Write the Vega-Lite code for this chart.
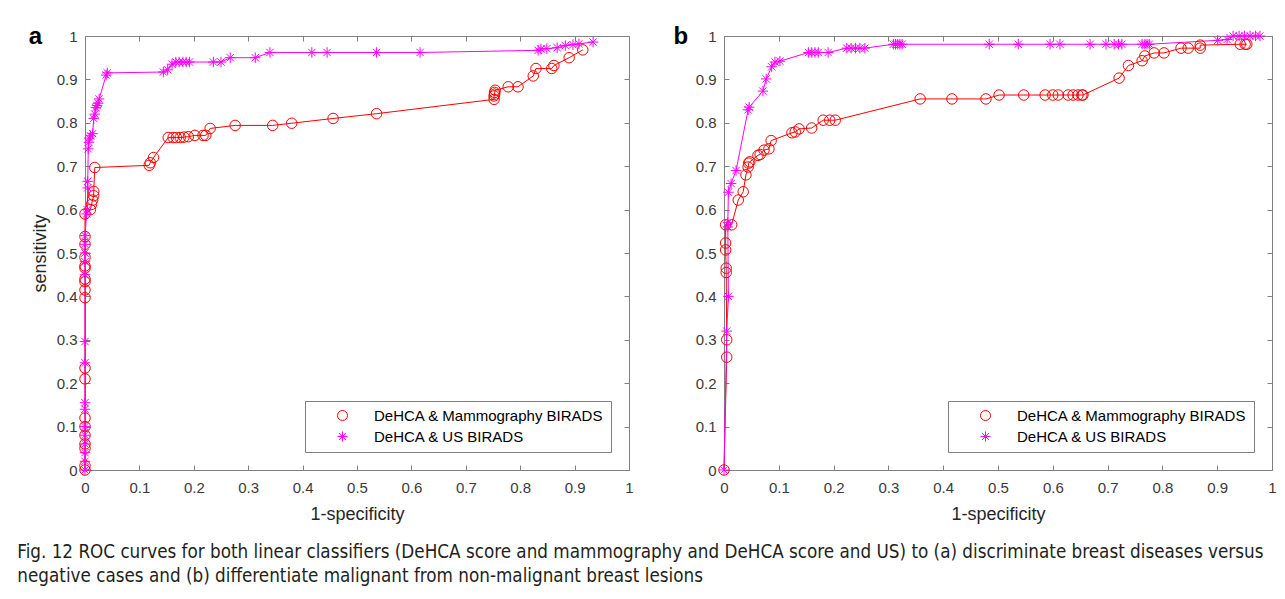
{
  "$schema": "https://vega.github.io/schema/vega-lite/v6.json",
  "background": "#ffffff",
  "padding": {"left": 17, "top": 24, "right": 0, "bottom": 0},
  "spacing": 38,
  "title": {
    "text": ["Fig. 12 ROC curves for both linear classifiers (DeHCA score and mammography and DeHCA score and US) to (a) discriminate breast diseases versus", "negative cases and (b) differentiate malignant from non-malignant breast lesions"],
    "orient": "bottom", "anchor": "start", "frame": "bounds",
    "font": "DejaVu Sans Condensed", "fontSize": 18.7, "fontWeight": "normal", "color": "#231f20",
    "lineHeight": 24, "offset": 19, "dx": -11
  },
  "datasets": {
    "a": [
      {"s":"M","k":1,"x":0,"y":0},{"s":"M","k":2,"x":0,"y":0.01},{"s":"M","k":3,"x":0,"y":0.05},{"s":"M","k":4,"x":0,"y":0.06},{"s":"M","k":5,"x":0,"y":0.08},{"s":"M","k":6,"x":0,"y":0.1},{"s":"M","k":7,"x":0,"y":0.12},{"s":"M","k":8,"x":0,"y":0.21},{"s":"M","k":9,"x":0,"y":0.235},{"s":"M","k":10,"x":0,"y":0.397},{"s":"M","k":11,"x":0,"y":0.415},{"s":"M","k":12,"x":0,"y":0.434},{"s":"M","k":13,"x":0,"y":0.44},{"s":"M","k":14,"x":0,"y":0.465},{"s":"M","k":15,"x":0,"y":0.47},{"s":"M","k":16,"x":0,"y":0.49},{"s":"M","k":17,"x":0,"y":0.52},{"s":"M","k":18,"x":0,"y":0.538},{"s":"M","k":19,"x":0,"y":0.59},{"s":"M","k":20,"x":0.01,"y":0.6},{"s":"M","k":21,"x":0.012,"y":0.612},{"s":"M","k":22,"x":0.014,"y":0.622},{"s":"M","k":23,"x":0.016,"y":0.632},{"s":"M","k":24,"x":0.016,"y":0.642},{"s":"M","k":25,"x":0.018,"y":0.697},{"s":"M","k":26,"x":0.118,"y":0.702},{"s":"M","k":27,"x":0.12,"y":0.708},{"s":"M","k":28,"x":0.126,"y":0.72},{"s":"M","k":29,"x":0.153,"y":0.766},{"s":"M","k":30,"x":0.162,"y":0.766},{"s":"M","k":31,"x":0.168,"y":0.766},{"s":"M","k":32,"x":0.175,"y":0.766},{"s":"M","k":33,"x":0.182,"y":0.767},{"s":"M","k":34,"x":0.19,"y":0.768},{"s":"M","k":35,"x":0.202,"y":0.771},{"s":"M","k":36,"x":0.217,"y":0.771},{"s":"M","k":37,"x":0.222,"y":0.771},{"s":"M","k":38,"x":0.23,"y":0.787},{"s":"M","k":39,"x":0.276,"y":0.794},{"s":"M","k":40,"x":0.345,"y":0.794},{"s":"M","k":41,"x":0.38,"y":0.799},{"s":"M","k":42,"x":0.456,"y":0.81},{"s":"M","k":43,"x":0.536,"y":0.821},{"s":"M","k":44,"x":0.752,"y":0.854},{"s":"M","k":45,"x":0.752,"y":0.862},{"s":"M","k":46,"x":0.753,"y":0.866},{"s":"M","k":47,"x":0.753,"y":0.87},{"s":"M","k":48,"x":0.754,"y":0.875},{"s":"M","k":49,"x":0.778,"y":0.883},{"s":"M","k":50,"x":0.796,"y":0.883},{"s":"M","k":51,"x":0.824,"y":0.908},{"s":"M","k":52,"x":0.829,"y":0.925},{"s":"M","k":53,"x":0.858,"y":0.925},{"s":"M","k":54,"x":0.862,"y":0.932},{"s":"M","k":55,"x":0.89,"y":0.95},{"s":"M","k":56,"x":0.915,"y":0.968},
      {"s":"U","k":1,"x":0,"y":0},{"s":"U","k":2,"x":0,"y":0.02},{"s":"U","k":3,"x":0,"y":0.04},{"s":"U","k":4,"x":0,"y":0.06},{"s":"U","k":5,"x":0,"y":0.08},{"s":"U","k":6,"x":0,"y":0.1},{"s":"U","k":7,"x":0,"y":0.14},{"s":"U","k":8,"x":0,"y":0.155},{"s":"U","k":9,"x":0,"y":0.247},{"s":"U","k":10,"x":0,"y":0.296},{"s":"U","k":11,"x":0,"y":0.45},{"s":"U","k":12,"x":0,"y":0.48},{"s":"U","k":13,"x":0,"y":0.5},{"s":"U","k":14,"x":0,"y":0.52},{"s":"U","k":15,"x":0,"y":0.54},{"s":"U","k":16,"x":0.003,"y":0.59},{"s":"U","k":17,"x":0.004,"y":0.6},{"s":"U","k":18,"x":0.005,"y":0.65},{"s":"U","k":19,"x":0.005,"y":0.665},{"s":"U","k":20,"x":0.006,"y":0.74},{"s":"U","k":21,"x":0.007,"y":0.755},{"s":"U","k":22,"x":0.008,"y":0.765},{"s":"U","k":23,"x":0.01,"y":0.77},{"s":"U","k":24,"x":0.014,"y":0.775},{"s":"U","k":25,"x":0.016,"y":0.81},{"s":"U","k":26,"x":0.018,"y":0.82},{"s":"U","k":27,"x":0.02,"y":0.835},{"s":"U","k":28,"x":0.022,"y":0.84},{"s":"U","k":29,"x":0.024,"y":0.845},{"s":"U","k":30,"x":0.026,"y":0.855},{"s":"U","k":31,"x":0.039,"y":0.91},{"s":"U","k":32,"x":0.041,"y":0.915},{"s":"U","k":33,"x":0.144,"y":0.917},{"s":"U","k":34,"x":0.152,"y":0.922},{"s":"U","k":35,"x":0.16,"y":0.935},{"s":"U","k":36,"x":0.167,"y":0.94},{"s":"U","k":37,"x":0.173,"y":0.94},{"s":"U","k":38,"x":0.18,"y":0.94},{"s":"U","k":39,"x":0.186,"y":0.94},{"s":"U","k":40,"x":0.192,"y":0.94},{"s":"U","k":41,"x":0.236,"y":0.94},{"s":"U","k":42,"x":0.25,"y":0.94},{"s":"U","k":43,"x":0.267,"y":0.95},{"s":"U","k":44,"x":0.313,"y":0.95},{"s":"U","k":45,"x":0.34,"y":0.962},{"s":"U","k":46,"x":0.417,"y":0.962},{"s":"U","k":47,"x":0.445,"y":0.962},{"s":"U","k":48,"x":0.536,"y":0.962},{"s":"U","k":49,"x":0.616,"y":0.962},{"s":"U","k":50,"x":0.833,"y":0.967},{"s":"U","k":51,"x":0.838,"y":0.97},{"s":"U","k":52,"x":0.849,"y":0.971},{"s":"U","k":53,"x":0.868,"y":0.973},{"s":"U","k":54,"x":0.883,"y":0.978},{"s":"U","k":55,"x":0.897,"y":0.98},{"s":"U","k":56,"x":0.908,"y":0.982},{"s":"U","k":57,"x":0.934,"y":0.986}
    ],
    "b": [
      {"s":"M","k":1,"x":0,"y":0},{"s":"M","k":2,"x":0.005,"y":0.26},{"s":"M","k":3,"x":0.005,"y":0.3},{"s":"M","k":4,"x":0.004,"y":0.455},{"s":"M","k":5,"x":0.004,"y":0.465},{"s":"M","k":6,"x":0.003,"y":0.507},{"s":"M","k":7,"x":0.003,"y":0.523},{"s":"M","k":8,"x":0.003,"y":0.565},{"s":"M","k":9,"x":0.014,"y":0.565},{"s":"M","k":10,"x":0.026,"y":0.622},{"s":"M","k":11,"x":0.035,"y":0.641},{"s":"M","k":12,"x":0.04,"y":0.68},{"s":"M","k":13,"x":0.044,"y":0.698},{"s":"M","k":14,"x":0.045,"y":0.707},{"s":"M","k":15,"x":0.047,"y":0.71},{"s":"M","k":16,"x":0.062,"y":0.725},{"s":"M","k":17,"x":0.066,"y":0.727},{"s":"M","k":18,"x":0.073,"y":0.737},{"s":"M","k":19,"x":0.082,"y":0.74},{"s":"M","k":20,"x":0.086,"y":0.759},{"s":"M","k":21,"x":0.124,"y":0.777},{"s":"M","k":22,"x":0.13,"y":0.779},{"s":"M","k":23,"x":0.137,"y":0.786},{"s":"M","k":24,"x":0.16,"y":0.788},{"s":"M","k":25,"x":0.181,"y":0.806},{"s":"M","k":26,"x":0.193,"y":0.806},{"s":"M","k":27,"x":0.203,"y":0.806},{"s":"M","k":28,"x":0.358,"y":0.855},{"s":"M","k":29,"x":0.416,"y":0.855},{"s":"M","k":30,"x":0.478,"y":0.855},{"s":"M","k":31,"x":0.502,"y":0.864},{"s":"M","k":32,"x":0.547,"y":0.864},{"s":"M","k":33,"x":0.586,"y":0.864},{"s":"M","k":34,"x":0.6,"y":0.864},{"s":"M","k":35,"x":0.61,"y":0.864},{"s":"M","k":36,"x":0.628,"y":0.864},{"s":"M","k":37,"x":0.637,"y":0.864},{"s":"M","k":38,"x":0.646,"y":0.864},{"s":"M","k":39,"x":0.653,"y":0.864},{"s":"M","k":40,"x":0.655,"y":0.864},{"s":"M","k":41,"x":0.721,"y":0.903},{"s":"M","k":42,"x":0.738,"y":0.932},{"s":"M","k":43,"x":0.763,"y":0.943},{"s":"M","k":44,"x":0.768,"y":0.954},{"s":"M","k":45,"x":0.785,"y":0.961},{"s":"M","k":46,"x":0.803,"y":0.961},{"s":"M","k":47,"x":0.834,"y":0.972},{"s":"M","k":48,"x":0.847,"y":0.972},{"s":"M","k":49,"x":0.869,"y":0.972},{"s":"M","k":50,"x":0.869,"y":0.979},{"s":"M","k":51,"x":0.942,"y":0.981},{"s":"M","k":52,"x":0.951,"y":0.981},{"s":"M","k":53,"x":0.954,"y":0.981},
      {"s":"U","k":1,"x":0,"y":0},{"s":"U","k":2,"x":0.005,"y":0.32},{"s":"U","k":3,"x":0.008,"y":0.4},{"s":"U","k":4,"x":0.007,"y":0.56},{"s":"U","k":5,"x":0.007,"y":0.57},{"s":"U","k":6,"x":0.008,"y":0.64},{"s":"U","k":7,"x":0.013,"y":0.66},{"s":"U","k":8,"x":0.022,"y":0.69},{"s":"U","k":9,"x":0.044,"y":0.83},{"s":"U","k":10,"x":0.046,"y":0.836},{"s":"U","k":11,"x":0.071,"y":0.873},{"s":"U","k":12,"x":0.077,"y":0.901},{"s":"U","k":13,"x":0.087,"y":0.929},{"s":"U","k":14,"x":0.093,"y":0.94},{"s":"U","k":15,"x":0.102,"y":0.942},{"s":"U","k":16,"x":0.154,"y":0.962},{"s":"U","k":17,"x":0.16,"y":0.962},{"s":"U","k":18,"x":0.166,"y":0.962},{"s":"U","k":19,"x":0.172,"y":0.962},{"s":"U","k":20,"x":0.19,"y":0.962},{"s":"U","k":21,"x":0.224,"y":0.972},{"s":"U","k":22,"x":0.232,"y":0.972},{"s":"U","k":23,"x":0.24,"y":0.972},{"s":"U","k":24,"x":0.248,"y":0.972},{"s":"U","k":25,"x":0.257,"y":0.972},{"s":"U","k":26,"x":0.309,"y":0.981},{"s":"U","k":27,"x":0.313,"y":0.981},{"s":"U","k":28,"x":0.317,"y":0.981},{"s":"U","k":29,"x":0.321,"y":0.981},{"s":"U","k":30,"x":0.325,"y":0.981},{"s":"U","k":31,"x":0.484,"y":0.981},{"s":"U","k":32,"x":0.537,"y":0.981},{"s":"U","k":33,"x":0.595,"y":0.981},{"s":"U","k":34,"x":0.613,"y":0.981},{"s":"U","k":35,"x":0.668,"y":0.981},{"s":"U","k":36,"x":0.697,"y":0.981},{"s":"U","k":37,"x":0.712,"y":0.981},{"s":"U","k":38,"x":0.72,"y":0.981},{"s":"U","k":39,"x":0.726,"y":0.981},{"s":"U","k":40,"x":0.763,"y":0.981},{"s":"U","k":41,"x":0.768,"y":0.981},{"s":"U","k":42,"x":0.772,"y":0.981},{"s":"U","k":43,"x":0.776,"y":0.981},{"s":"U","k":44,"x":0.901,"y":0.99},{"s":"U","k":45,"x":0.918,"y":0.992},{"s":"U","k":46,"x":0.929,"y":1.0},{"s":"U","k":47,"x":0.94,"y":1.0},{"s":"U","k":48,"x":0.95,"y":1.0},{"s":"U","k":49,"x":0.96,"y":1.0},{"s":"U","k":50,"x":0.97,"y":1.0},{"s":"U","k":51,"x":0.978,"y":1.0}
    ]
  },
  "resolve": {"scale": {"color": "independent", "shape": "independent"}, "legend": {"color": "independent", "shape": "independent"}},
  "hconcat": [
    {
      "width": 544, "height": 434,
      "data": {"name": "a"},
      "resolve": {"axis": {"x": "independent", "y": "independent"}},
      "layer": [
        {
          "mark": {"type": "point", "opacity": 0},
          "encoding": {
            "x": {"field": "x", "type": "quantitative", "scale": {"domain": [0, 1], "nice": false, "zero": false}, "axis": {"orient": "top", "labels": false, "title": null, "values": [0,0.1,0.2,0.3,0.4,0.5,0.6,0.7,0.8,0.9,1]}},
            "y": {"field": "y", "type": "quantitative", "scale": {"domain": [0, 1], "nice": false, "zero": false}, "axis": {"orient": "right", "labels": false, "title": null, "values": [0,0.1,0.2,0.3,0.4,0.5,0.6,0.7,0.8,0.9,1]}}
          }
        },
        {
          "mark": {"type": "line", "strokeWidth": 1},
          "encoding": {
            "x": {"field": "x", "type": "quantitative", "axis": null},
            "y": {"field": "y", "type": "quantitative", "axis": null},
            "color": {"field": "s", "type": "nominal", "scale": {"domain": ["M", "U"], "range": ["#ff0000", "#ff00ff"]},
                      "legend": {"title": null, "labelLimit": 400, "labelExpr": "datum.value === 'M' ? 'DeHCA & Mammography BIRADS' : 'DeHCA & US BIRADS'"}},
            "order": {"field": "k", "type": "quantitative"}
          }
        },
        {
          "mark": {"type": "point", "filled": false, "strokeWidth": 1, "size": 110, "opacity": 1},
          "encoding": {
            "x": {"field": "x", "type": "quantitative", "title": "1-specificity",
                  "axis": {"orient": "bottom", "values": [0,0.1,0.2,0.3,0.4,0.5,0.6,0.7,0.8,0.9,1], "format": "~g", "labelPadding": 15, "titlePadding": 10, "labelFlush": false, "labelOverlap": false, "labelBound": false}},
            "y": {"field": "y", "type": "quantitative", "title": "sensitivity",
                  "axis": {"orient": "left", "values": [0,0.1,0.2,0.3,0.4,0.5,0.6,0.7,0.8,0.9,1], "format": "~g", "labelPadding": 13, "titlePadding": 7, "labelFlush": false, "labelOverlap": false, "labelBound": false}},
            "color": {"field": "s", "type": "nominal", "legend": null},
            "shape": {"field": "s", "type": "nominal", "scale": {"domain": ["M", "U"], "range": ["circle", "M-1,0L1,0M0,-1L0,1M-0.7,-0.7L0.7,0.7M-0.7,0.7L0.7,-0.7"]}, "legend": null}
          }
        },
        {
          "data": {"values": [{"t": "a"}]},
          "mark": {"type": "text", "font": "Liberation Sans", "fontSize": 24, "fontWeight": "bold", "align": "center", "baseline": "alphabetic", "color": "#000000"},
          "encoding": {
            "x": {"datum": -0.091, "type": "quantitative", "axis": null},
            "y": {"datum": 0.981, "type": "quantitative", "axis": null},
            "text": {"field": "t"}
          }
        }
      ]
    },
    {
      "width": 548, "height": 434,
      "data": {"name": "b"},
      "resolve": {"axis": {"x": "independent", "y": "independent"}},
      "layer": [
        {
          "mark": {"type": "point", "opacity": 0},
          "encoding": {
            "x": {"field": "x", "type": "quantitative", "scale": {"domain": [0, 1], "nice": false, "zero": false}, "axis": {"orient": "top", "labels": false, "title": null, "values": [0,0.1,0.2,0.3,0.4,0.5,0.6,0.7,0.8,0.9,1]}},
            "y": {"field": "y", "type": "quantitative", "scale": {"domain": [0, 1], "nice": false, "zero": false}, "axis": {"orient": "right", "labels": false, "title": null, "values": [0,0.1,0.2,0.3,0.4,0.5,0.6,0.7,0.8,0.9,1]}}
          }
        },
        {
          "mark": {"type": "line", "strokeWidth": 1},
          "encoding": {
            "x": {"field": "x", "type": "quantitative", "axis": null},
            "y": {"field": "y", "type": "quantitative", "axis": null},
            "color": {"field": "s", "type": "nominal", "scale": {"domain": ["M", "U"], "range": ["#ff0000", "#ff00ff"]},
                      "legend": {"title": null, "labelLimit": 400, "labelExpr": "datum.value === 'M' ? 'DeHCA & Mammography BIRADS' : 'DeHCA & US BIRADS'"}},
            "order": {"field": "k", "type": "quantitative"}
          }
        },
        {
          "mark": {"type": "point", "filled": false, "strokeWidth": 1, "size": 110, "opacity": 1},
          "encoding": {
            "x": {"field": "x", "type": "quantitative", "title": "1-specificity",
                  "axis": {"orient": "bottom", "values": [0,0.1,0.2,0.3,0.4,0.5,0.6,0.7,0.8,0.9,1], "format": "~g", "labelPadding": 15, "titlePadding": 10, "labelFlush": false, "labelOverlap": false, "labelBound": false}},
            "y": {"field": "y", "type": "quantitative", "title": null,
                  "axis": {"orient": "left", "values": [0,0.1,0.2,0.3,0.4,0.5,0.6,0.7,0.8,0.9,1], "format": "~g", "labelPadding": 13, "labelFlush": false, "labelOverlap": false, "labelBound": false}},
            "color": {"field": "s", "type": "nominal", "legend": null},
            "shape": {"field": "s", "type": "nominal", "scale": {"domain": ["M", "U"], "range": ["circle", "M-1,0L1,0M0,-1L0,1M-0.7,-0.7L0.7,0.7M-0.7,0.7L0.7,-0.7"]}, "legend": null}
          }
        },
        {
          "data": {"values": [{"t": "b"}]},
          "mark": {"type": "text", "font": "Liberation Sans", "fontSize": 24, "fontWeight": "bold", "align": "center", "baseline": "alphabetic", "color": "#000000"},
          "encoding": {
            "x": {"datum": -0.079, "type": "quantitative", "axis": null},
            "y": {"datum": 0.981, "type": "quantitative", "axis": null},
            "text": {"field": "t"}
          }
        }
      ]
    }
  ],
  "config": {
    "font": "Liberation Sans",
    "view": {"stroke": "#808080", "strokeWidth": 1},
    "axis": {"grid": false, "domain": false, "ticks": true, "tickColor": "#808080", "tickSize": -5, "tickWidth": 1,
             "labelFont": "Liberation Sans", "labelFontSize": 15, "labelColor": "#3a3a3a",
             "titleFont": "Liberation Sans", "titleFontSize": 18, "titleFontWeight": "normal", "titleColor": "#262626"},
    "legend": {"orient": "bottom-right", "offset": 18, "strokeColor": "#7f7f7f", "fillColor": "#ffffff", "padding": 7,
               "labelFont": "Liberation Sans", "labelFontSize": 15, "labelColor": "#000000", "rowPadding": 5,
               "symbolSize": 100, "symbolOffset": 23, "labelOffset": 24, "symbolStrokeWidth": 1}
  }
}
